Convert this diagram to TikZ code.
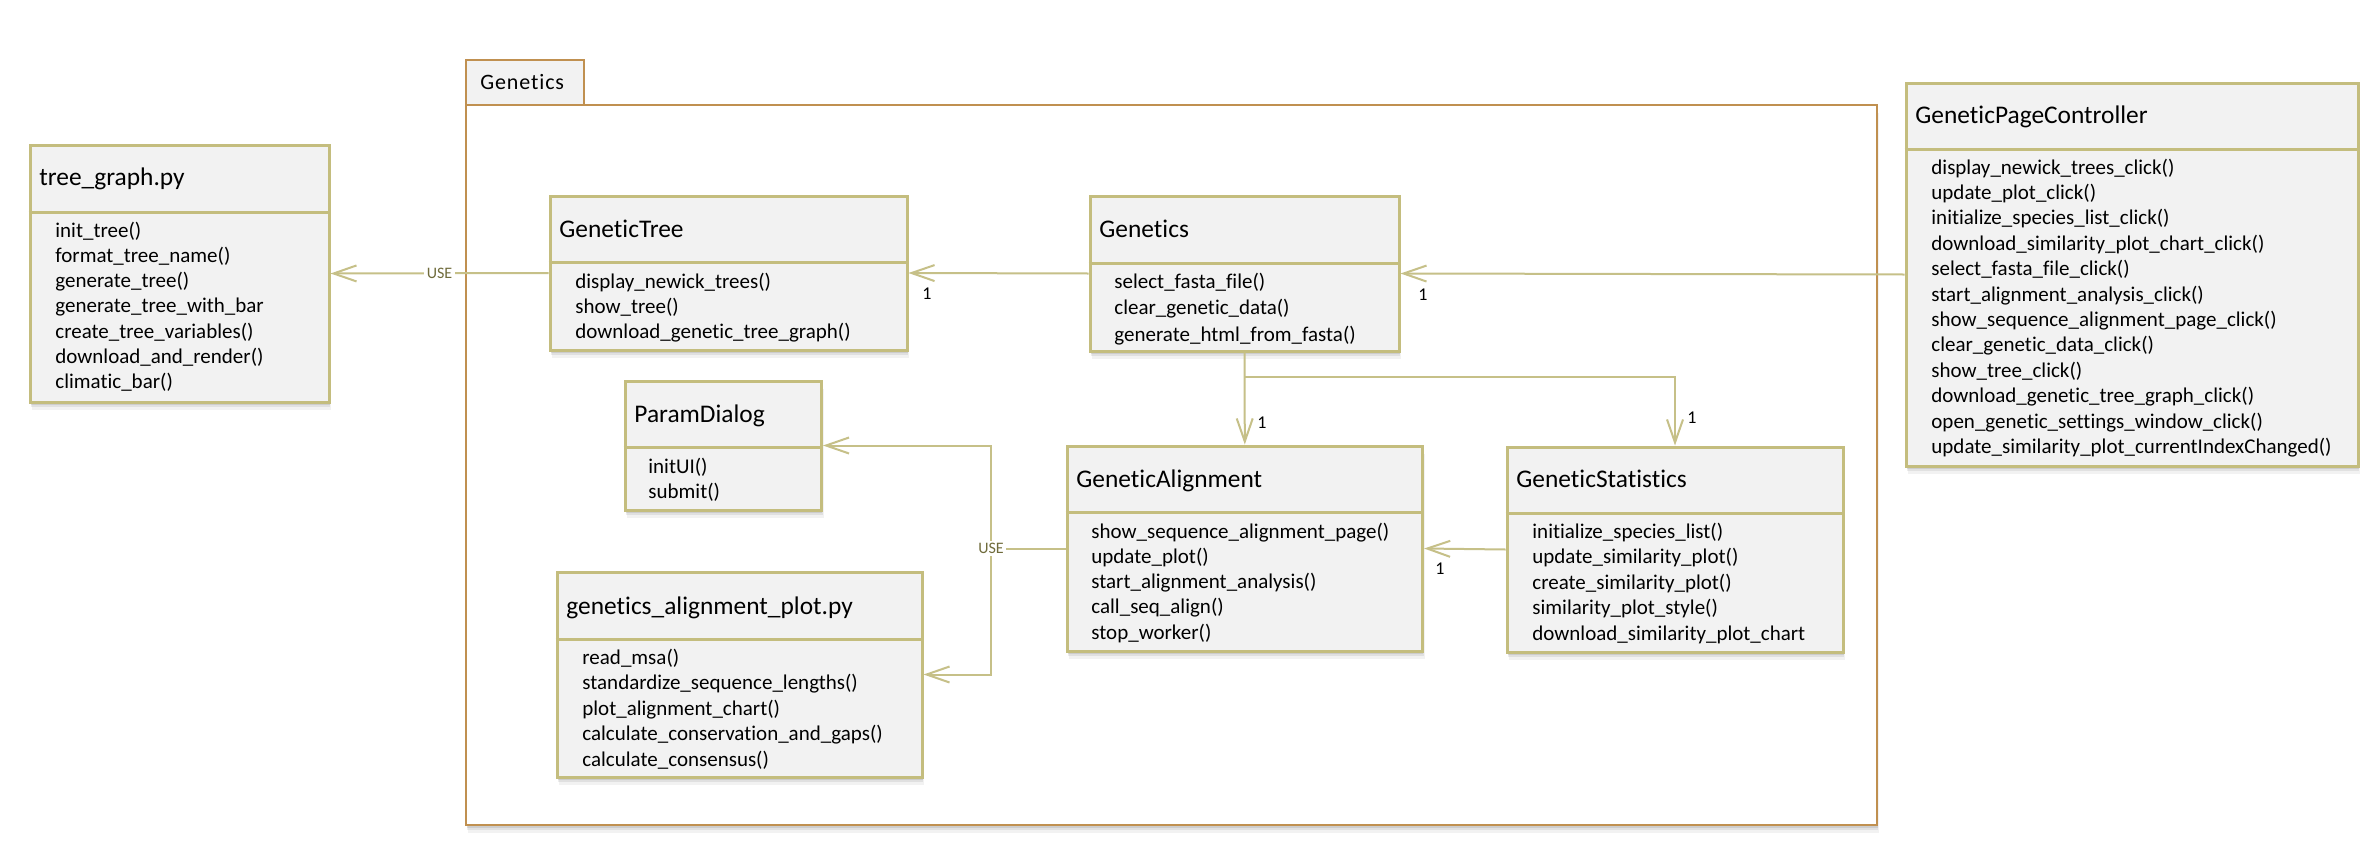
\documentclass[tikz,border=0pt]{standalone}
\usepackage{fontspec}
\setmainfont{Carlito}[Ligatures={NoCommon,NoContextual}]
\usetikzlibrary{arrows.meta,fit}

\definecolor{boxline}{HTML}{C4BD7E}
\definecolor{connline}{HTML}{C6C088}
\definecolor{boxfill}{HTML}{F2F2F2}
\definecolor{pkgline}{HTML}{C09050}
\definecolor{usetext}{HTML}{6F6B3B}

\tikzset{
  softshadow/.style={
    preaction={fill=black,opacity=.09,transform canvas={xshift=.4pt,yshift=-1.3pt}},
    preaction={fill=black,opacity=.07,transform canvas={xshift=.7pt,yshift=-2.6pt}},
    preaction={fill=black,opacity=.05,transform canvas={xshift=1pt,yshift=-4pt}}},
  classbox/.style={draw=boxline, line width=1.5pt, fill=boxfill, inner sep=0pt, softshadow},
  classrule/.style={draw=boxline, line width=1.5pt},
  classtitle/.style={inner sep=0pt, font=\fontsize{12.7}{15}\selectfont},
  classop/.style={inner sep=0pt, font=\fontsize{10.5}{12.7}\selectfont},
  pkgframe/.style={draw=pkgline, line width=1.4pt, inner sep=0pt},
  conn/.style={draw=connline, line width=1pt},
  openarrow/.style={-{Straight Barb[length=11.5pt,width=8pt]}},
  uselabel/.style={fill=white, inner sep=1.2pt, text=usetext, font=\fontsize{8}{9}\selectfont},
  mult/.style={inner sep=0pt, font=\fontsize{9}{10}\selectfont},
}

% class box: name, x1, y1, x2, y2, separator y, title baseline, title
\newcommand\umlclass[8]{%
  \node[classbox, fit={(#2,#3) (#4,#5)}] (#1) {};
  \draw[classrule] (#1.west |- 0,#6) -- (#1.east |- 0,#6);
  \node[classtitle, anchor=base west] (#1-title) at (#2+9,#7) {#8};
}
% operations: name, x, first baseline, line step, list
\newcommand\umlops[5]{%
  \foreach \op [count=\k] in {#5} {
    \node[classop, anchor=base west] (#1-op\k) at (#2,{#3+(\k-1)*#4}) {\op};
  }
}

\begin{document}
\begin{tikzpicture}[x=0.5pt,y=-0.5pt]
\useasboundingbox (0,0) rectangle (2371,867);

% package Genetics
\node[pkgframe, fill=white, softshadow, fit={(466,105) (1877,825)}] (pkg) {};
\node[pkgframe, fill=boxfill, fit={(466,60) (584,105)}] (pkgtab) {};
\node[inner sep=0pt, anchor=base west, font=\fontsize{11}{13}\selectfont\addfontfeature{LetterSpace=4}] (pkgname) at (480,89) {Genetics};

% classes
\umlclass{tg}{30}{145}{329}{402}{212}{185}{tree\_graph.py}
\umlops{tg}{55}{237}{25.3}{init\_tree(), format\_tree\_name(), generate\_tree(), generate\_tree\_with\_bar, create\_tree\_variables(), download\_and\_render(), climatic\_bar()}

\umlclass{gt}{550}{196}{907}{350}{262}{237}{GeneticTree}
\umlops{gt}{575}{288}{25}{display\_newick\_trees(), show\_tree(), download\_genetic\_tree\_graph()}

\umlclass{gen}{1090}{196}{1399}{351}{263}{237}{Genetics}
\umlops{gen}{1114}{288}{26.5}{select\_fasta\_file(), clear\_genetic\_data(), generate\_html\_from\_fasta()}

\umlclass{gpc}{1906}{83}{2358}{466}{149}{123}{GeneticPageController}
\umlops{gpc}{1931}{174}{25.4}{display\_newick\_trees\_click(), update\_plot\_click(), initialize\_species\_list\_click(), download\_similarity\_plot\_chart\_click(), select\_fasta\_file\_click(), start\_alignment\_analysis\_click(), show\_sequence\_alignment\_page\_click(), clear\_genetic\_data\_click(), show\_tree\_click(), download\_genetic\_tree\_graph\_click(), open\_genetic\_settings\_window\_click(), update\_similarity\_plot\_currentIndexChanged()}

\umlclass{pd}{625}{381}{821.5}{510}{447}{422}{ParamDialog}
\umlops{pd}{648}{473}{25}{initUI(), submit()}

\umlclass{ga}{1067}{446}{1422.6}{651}{512}{487}{GeneticAlignment}
\umlops{ga}{1091}{538}{25.3}{show\_sequence\_alignment\_page(), update\_plot(), start\_alignment\_analysis(), call\_seq\_align(), stop\_worker()}

\umlclass{gap}{557}{572}{922}{777}{639}{614}{genetics\_alignment\_plot.py}
\umlops{gap}{582}{664}{25.5}{read\_msa(), standardize\_sequence\_lengths(), plot\_alignment\_chart(), calculate\_conservation\_and\_gaps(), calculate\_consensus()}

\umlclass{gs}{1507}{447}{1843}{652}{513}{487}{GeneticStatistics}
\umlops{gs}{1532}{538}{25.5}{initialize\_species\_list(), update\_similarity\_plot(), create\_similarity\_plot(), similarity\_plot\_style(), download\_similarity\_plot\_chart}

% connectors along the top row
\draw[conn, openarrow] (gt.west) -- (tg.east) node[uselabel, pos=.5] (use1) {USE};
\draw[conn, openarrow] (gen.west) -- (gt.east);
\node[mult] (m1) at (927,294) {1};
\draw[conn, openarrow] (gpc.west) -- (gen.east);
\node[mult] (m2) at (1423,295) {1};

% Genetics owns the alignment and statistics parts
\path (gen.south) ++(0,24) coordinate (split);
\draw[conn, openarrow] (gen.south) -- (ga.north);
\draw[conn, openarrow] (split) -| (gs.north);
\node[mult] (m3) at (1262,423) {1};
\node[mult] (m4) at (1692,418) {1};

\draw[conn, openarrow] (gs.west) -- (ga.east);
\node[mult] (m5) at (1440,569) {1};

% GeneticAlignment uses the dialog and the plotting module
\coordinate (usej) at (991,548.5);
\draw[conn] (ga.west) -- (usej);
\draw[conn, openarrow] (usej) |- (pd.east);
\draw[conn, openarrow] (usej) |- (gap.east);
\node[uselabel] (use2) at (usej) {USE};
\end{tikzpicture}
\end{document}
